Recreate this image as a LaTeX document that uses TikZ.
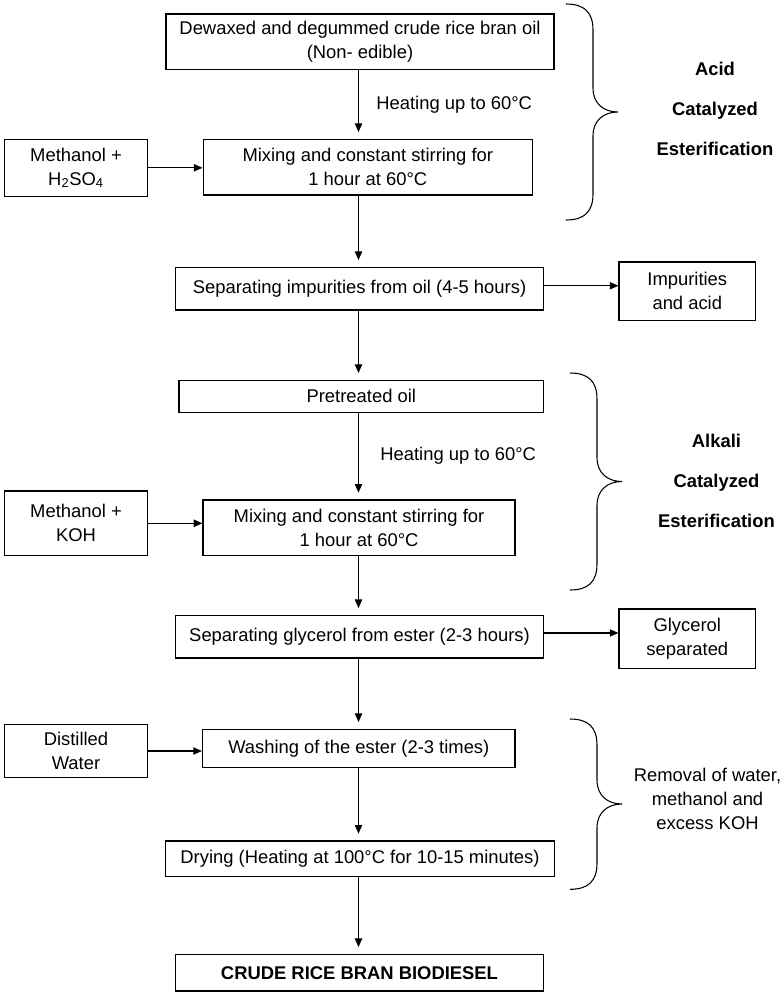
\documentclass[tikz,border=0pt]{standalone}
\usepackage{fontspec}
\setmainfont{Liberation Sans}
\usetikzlibrary{arrows.meta}

% curly brace: left x, top y, tip y, bottom y
\newcommand{\sidebrace}[4]{%
  \draw[curly] (#1,#2) .. controls (#1+18,#2) and (#1+27,#2+8) .. (#1+27,#2+26)
    -- (#1+27,#3-24) .. controls (#1+27,#3-8) and (#1+38,#3) .. (#1+52,#3)
    .. controls (#1+38,#3) and (#1+27,#3+8) .. (#1+27,#3+24)
    -- (#1+27,#4-26) .. controls (#1+27,#4-8) and (#1+18,#4) .. (#1,#4);}

\begin{document}
\begin{tikzpicture}[x=0.75pt, y=-0.75pt,
  procbox/.style={draw, line width=0.9pt, inner sep=0pt, align=center,
    font=\fontsize{13.8pt}{18pt}\selectfont},
  flow/.style={-{Triangle[length=6.5pt,width=5.5pt]}, line width=0.8pt, shorten >=5pt},
  feed/.style={-{Triangle[length=6.5pt,width=5.5pt]}, line width=0.8pt},
  curly/.style={line width=0.8pt},
  stage/.style={font=\fontsize{13.8pt}{29.8pt}\selectfont\bfseries, align=center, inner sep=0pt},
  note/.style={font=\fontsize{13.8pt}{18pt}\selectfont, align=center, inner sep=0pt}]

  \useasboundingbox (0,0) rectangle (784,993);
  \coordinate (spine) at (358.5,0);

  % acid catalyzed stage
  \node[procbox, minimum width=291pt, minimum height=41.5pt] (crude) at (360,41.7) {Dewaxed and degummed crude rice bran oil\\(Non- edible)};
  \node[procbox, minimum width=247pt, minimum height=41.8pt] (mixacid) at (367.8,167.2) {Mixing and constant stirring for\\1 hour at 60°C};
  \node[procbox, minimum width=107.3pt, minimum height=42.8pt] (acidin) at (76,167.8) {Methanol +\\H\textsubscript{2}SO\textsubscript{4}};
  \node[procbox, minimum width=276pt, minimum height=32pt] (sepimp) at (359.5,288.7) {Separating impurities from oil (4-5 hours)};
  \node[procbox, minimum width=102.4pt, minimum height=44pt] (impout) at (687.3,291.3) {Impurities\\and acid};

  % alkali catalyzed stage
  \node[procbox, minimum width=273.4pt, minimum height=24pt] (pretreat) at (361.3,396.3) {Pretreated oil};
  \node[procbox, minimum width=234pt, minimum height=41.8pt] (mixalk) at (359,527.8) {Mixing and constant stirring for\\1 hour at 60°C};
  \node[procbox, minimum width=107.3pt, minimum height=48.5pt] (alkin) at (76,523.3) {Methanol +\\KOH};
  \node[procbox, minimum width=276pt, minimum height=32pt] (sepgly) at (359.5,636.7) {Separating glycerol from ester (2-3 hours)};
  \node[procbox, minimum width=102.4pt, minimum height=44.5pt] (glyout) at (687.3,638.7) {Glycerol\\separated};

  % washing and drying
  \node[procbox, minimum width=234.4pt, minimum height=28.5pt] (wash) at (358.8,748.3) {Washing of the ester (2-3 times)};
  \node[procbox, minimum width=107.3pt, minimum height=40pt] (water) at (76,751) {Distilled\\Water};
  \node[procbox, minimum width=291.4pt, minimum height=26.8pt] (dry) at (360,858.8) {Drying (Heating at 100°C for 10-15 minutes)};
  \node[procbox, minimum width=276pt, minimum height=27.5pt, font=\fontsize{13.8pt}{18pt}\selectfont\bfseries] (biodiesel) at (359.5,972.7) {CRUDE RICE BRAN BIODIESEL};

  % main line
  \draw[flow] (crude.south -| spine) -- node[note, right=13pt] (heatacid) {Heating up to 60°C} (mixacid.north -| spine);
  \draw[flow] (mixacid.south -| spine) -- (sepimp.north -| spine);
  \draw[flow] (sepimp.south -| spine) -- (pretreat.north -| spine);
  \draw[flow] (pretreat.south -| spine) -- node[note, right=16pt] (heatalk) {Heating up to 60°C} (mixalk.north -| spine);
  \draw[flow] (mixalk.south -| spine) -- (sepgly.north -| spine);
  \draw[flow] (sepgly.south -| spine) -- (wash.north -| spine);
  \draw[flow] (wash.south -| spine) -- (dry.north -| spine);
  \draw[flow] (dry.south -| spine) -- (biodiesel.north -| spine);

  % side inputs and outputs
  \draw[feed] (acidin.east) -- (acidin.east -| mixacid.west);
  \draw[feed] ([yshift=2.2pt]sepimp.east) -- ([yshift=2.2pt]sepimp.east -| impout.west);
  \draw[feed] (alkin.east) -- (alkin.east -| mixalk.west);
  \draw[feed] ([yshift=2.8pt]sepgly.east) -- ([yshift=2.8pt]sepgly.east -| glyout.west);
  \draw[feed] (water.east) -- (water.east -| wash.west);

  % braces
  \sidebrace{566}{4}{112}{220}
  \node[stage] (acidlbl) at (715,108.7) {Acid\\Catalyzed\\Esterification};
  \sidebrace{570}{373}{481.5}{590}
  \node[stage] (alklbl) at (716.5,481) {Alkali\\Catalyzed\\Esterification};
  \sidebrace{570}{719}{804}{889.3}
  \node[note] (washlbl) at (707.5,798.5) {Removal of water,\\methanol and\\excess KOH};
\end{tikzpicture}
\end{document}
